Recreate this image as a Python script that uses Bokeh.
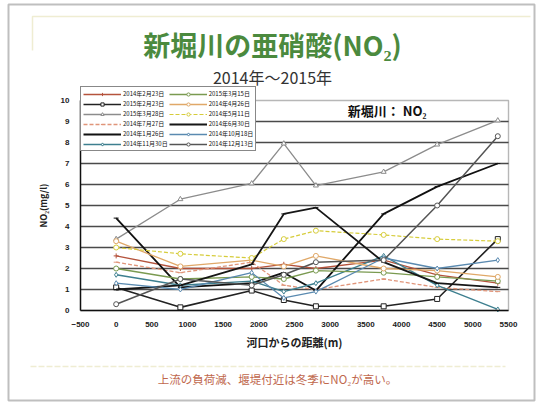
from bokeh.plotting import figure
from bokeh.models import (Label, Legend, LegendItem, PolyAnnotation, BoxAnnotation,
                          Range1d, FixedTicker, LinearAxis)
from bokeh.embed import file_html
from bokeh.resources import INLINE

# distance from the river mouth (m) at each sampling point
distance = [0, 900, 1900, 2350, 2800, 3750, 4500, 5350]

# NO2 (mg/l) per sampling date
d_20140223 = [2.6, 2.0, 2.0, 2.2, 2.0, 2.4, 1.7, 1.3]
d_20150223 = [1.1, 0.15, 0.95, 0.5, 0.2, 0.2, 0.55, 3.4]
d_20150328 = [3.4, 5.3, 6.05, 7.95, 5.95, 6.6, 7.9, 9.05]
d_20140727 = [2.3, 1.8, 2.3, 1.2, 1.0, 1.5, 1.1, 0.9]
d_20140126 = [4.4, 1.1, 1.3, 1.8, 0.95, 4.6, 5.9, 7.0]
d_20141130 = [1.7, 1.2, 1.4, 0.9, 1.3, 2.6, 1.2, 0.05]
d_20150315 = [2.0, 1.5, 1.6, 1.5, 1.9, 1.8, 1.6, 1.4]
d_20140426 = [3.3, 2.1, 2.4, 2.1, 2.6, 2.0, 1.9, 1.6]
d_20140511 = [3.0, 2.7, 2.5, 3.4, 3.8, 3.6, 3.4, 3.3]
d_20140630 = [1.0, 1.2, 2.2, 4.6, 4.9, 2.3, 1.3, 1.1]
d_20141018 = [1.3, 1.0, 1.8, 0.6, 0.9, 2.5, 2.0, 2.4]
d_20141213 = [0.3, 1.5, 1.2, 1.7, 2.3, 2.4, 5.0, 8.3]

dates = ["2014年2月23日", "2015年2月23日", "2015年3月28日", "2014年7月27日",
         "2014年1月26日", "2014年11月30日", "2015年3月15日", "2014年4月26日",
         "2014年5月11日", "2014年6月30日", "2014年10月18日", "2014年12月13日"]
values = [d_20140223, d_20150223, d_20150328, d_20140727, d_20140126, d_20141130,
          d_20150315, d_20140426, d_20140511, d_20140630, d_20141018, d_20141213]

x_ticks = [-500, 0, 500, 1000, 1500, 2000, 2500, 3000, 3500, 4000, 4500, 5000, 5500]
y_ticks = [0, 1, 2, 3, 4, 5, 6, 7, 8, 9, 10]

styles = [
    # color, width, dash, marker
    ("#b5533c", 1.3, "solid", "cross"),
    ("#222222", 1.6, "solid", "square"),
    ("#8c8c8c", 1.3, "solid", "triangle"),
    ("#e0957a", 1.3, "4 2", "dash"),
    ("#111111", 1.8, "solid", "dash"),
    ("#3d7f8f", 1.4, "solid", "diamond"),
    ("#7a9a50", 1.3, "solid", "circle"),
    ("#e0a868", 1.3, "solid", "circle"),
    ("#d6cc3a", 1.2, "4 2", "circle"),
    ("#161616", 1.8, "solid", "dash"),
    ("#5a8ab0", 1.3, "solid", "diamond"),
    ("#555555", 1.5, "solid", "circle"),
]

JP = "Noto Sans CJK JP"
W, H = 539, 408
# chart box on the slide, in page pixels
BOX_L, BOX_R, BOX_T, BOX_B = 80, 508, 100, 310
X0, X1 = x_ticks[0], x_ticks[-1]
Y0, Y1 = y_ticks[0], y_ticks[-1]
kx = (X1 - X0) / (BOX_R - BOX_L)
ky = (Y1 - Y0) / (BOX_B - BOX_T)

# the plot frame fills the whole slide; the chart box sits inside it
p = figure(width=W, height=H, output_backend="svg", toolbar_location=None,
           x_axis_type=None, y_axis_type=None,
           x_range=Range1d(X0 - BOX_L * kx, X1 + (W - BOX_R) * kx),
           y_range=Range1d(Y0 - (H - BOX_B) * ky, Y1 + BOX_T * ky),
           min_border=0)
p.background_fill_color = "white"
p.border_fill_color = "white"
p.outline_line_color = None
p.grid.visible = False

# horizontal gridlines across the chart box only
grid_y = y_ticks[1:-1]
p.segment(x0=[X0] * len(grid_y), x1=[X1] * len(grid_y), y0=grid_y, y1=grid_y,
          line_color="#2a2a2a", line_width=1.3, line_alpha=0.85)
p.add_layout(BoxAnnotation(left=X0, right=X1, bottom=Y0, top=Y1, fill_alpha=0,
                           line_color="#111111", line_width=1.4))

xaxis = LinearAxis(fixed_location=Y0, bounds=(X0, X1), ticker=FixedTicker(ticks=x_ticks),
                   axis_label="河口からの距離(m)")
yaxis = LinearAxis(fixed_location=X0, bounds=(Y0, Y1), ticker=FixedTicker(ticks=y_ticks),
                   axis_label="NO₂(mg/l)")
for ax in (xaxis, yaxis):
    ax.major_label_text_font = "Liberation Sans"
    ax.major_label_text_font_size = "8px"
    ax.major_label_text_font_style = "bold"
    ax.major_label_text_color = "#222222"
    ax.axis_line_color = "#111111"
    ax.axis_line_width = 1.4
    ax.major_tick_line_color = None
    ax.minor_tick_line_color = None
    ax.axis_label_text_font = JP
    ax.axis_label_text_color = "#222222"
    ax.axis_label_text_font_style = "bold"
xaxis.axis_label_text_font_size = "11px"
xaxis.axis_label_standoff = 4
yaxis.axis_label_text_font_size = "9px"
yaxis.axis_label_standoff = 8
p.add_layout(xaxis, "below")
p.add_layout(yaxis, "left")

items = []
for label, ys, (color, lw, dash, marker) in zip(dates, values, styles):
    r_line = p.line(distance, ys, line_color=color, line_width=lw, line_dash=dash)
    r_mark = p.scatter(distance, ys, marker=marker, size=5, line_color=color,
                       fill_color="white" if marker not in ("cross", "dash") else color,
                       line_width=1)
    items.append(LegendItem(label=label, renderers=[r_line, r_mark]))

legend = Legend(items=items, ncols=2, location=(BOX_L, H - 151),
                label_text_font=JP, label_text_font_size="6px",
                label_text_color="#111111", label_height=8, glyph_height=8,
                glyph_width=38, label_standoff=2, spacing=1, padding=2,
                margin=0, border_line_color="#111111", border_line_width=1.2,
                background_fill_alpha=1.0)
p.add_layout(legend)


def at(px, py):
    """page pixel -> screen offset from the lower-left corner of the frame"""
    return px, H - py


def label(px, py, text, size, color, bold=False, font=JP, **kw):
    sx, sy = at(px, py)
    p.add_layout(Label(x=sx, y=sy, x_units="screen", y_units="screen", text=text,
                       text_font=font, text_font_size=size, text_color=color,
                       text_font_style="bold" if bold else "normal",
                       text_align="center", text_baseline="middle", **kw))


def polyline(pts, color, width, dash="solid"):
    xs = [at(a, b)[0] for a, b in pts]
    ys = [at(a, b)[1] for a, b in pts]
    p.add_layout(PolyAnnotation(xs=xs, ys=ys, xs_units="screen", ys_units="screen",
                                fill_alpha=0, line_color=color, line_width=width,
                                line_dash=dash))


# slide frame and decorative rules
polyline([(8, 4), (534, 4), (534, 400), (8, 400)], "#2a2a2a", 2)
polyline([(32, 50), (32, 16), (530, 16), (32, 16)], "#c9c46a", 1.5, "6 2")
polyline([(30, 366), (505, 366), (30, 366)], "#c9c46a", 1.5, "6 2")

label(272, 44, "新堀川の亜硝酸(NO₂)", "27px", "#4b8a3e", bold=True)
label(272, 76, "2014年～2015年", "16px", "#333333")
label(388, 110, "新堀川：  NO₂", "13px", "#111111", bold=True)
label(277, 378, "上流の負荷減、堰堤付近は冬季にNO₂が高い。", "11.5px", "#c0674c")

open("out.html", "w").write(file_html(p, INLINE))
